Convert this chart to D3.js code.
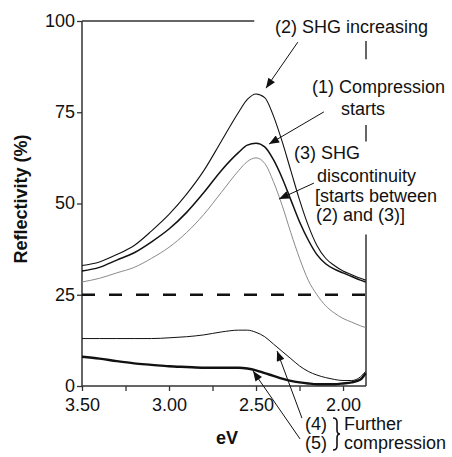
<!DOCTYPE html>
<html lang="en">
<head>
<meta charset="UTF-8">
<title>Reflectivity spectra</title>
<script src="https://d3js.org/d3.v7.min.js"></script>
<style>
  body { margin: 0; background: #fff; }
  svg { display: block; font-family: "Liberation Sans", Arial, sans-serif; }
  text { font-size: 18px; fill: #111; }
  .bold { font-weight: bold; }
</style>
</head>
<body>
<svg width="452" height="457"></svg>
<script>
// photon energy (eV), read along the x axis
const energy = [3.5, 3.4, 3.3, 3.2, 3.1, 3.0, 2.9, 2.8, 2.7, 2.6, 2.55, 2.5, 2.45,
                2.4, 2.35, 2.3, 2.25, 2.2, 2.15, 2.1, 2.05, 2.0, 1.95, 1.9, 1.87];

// reflectivity (%) for each spectrum
const shgIncreasing   = [33, 34, 36, 38.5, 42.5, 47, 52.5, 59, 67, 75, 78.5, 80, 79,
                         74, 67, 59, 51, 44, 38.5, 35, 33, 31.5, 30.5, 29.5, 29];
const compressionStart = [31.5, 32.5, 34.5, 36.5, 39.5, 43, 47.5, 53, 59, 64, 66, 66.5, 65.5,
                         62, 57, 51, 45, 40, 36, 33.5, 32, 31, 30, 29, 28.5];
const shgDiscontinuity = [28.5, 29.5, 31, 32.5, 35, 38, 42, 47, 53, 59, 61.5, 62.5, 61,
                         56, 49.5, 42, 35, 29, 25, 22, 20, 18.5, 17.5, 16.5, 16];
const furtherComp4    = [13, 13, 13, 13, 13, 13.2, 13.5, 14, 14.8, 15.3, 15.3, 14.7, 13.5,
                         11.5, 9.5, 7.5, 5.5, 4, 3, 2.3, 1.8, 1.5, 1.5, 2.5, 4];
const furtherComp5    = [8, 7.5, 6.8, 6.2, 5.8, 5.4, 5.2, 5, 5, 5, 4.8, 4.3, 3.5,
                         2.8, 2, 1.4, 1, 0.7, 0.5, 0.5, 0.5, 0.7, 1, 1.8, 3.5];

const xTicks = [3.5, 3.25, 3.0, 2.75, 2.5, 2.25, 2.0];
const xTickLabels = ["3.50", "", "3.00", "", "2.50", "", "2.00"];
const yTicks = [0, 25, 50, 75, 100];
const threshold = 25;

// arrows: from label to curve, in (eV, %)
const arrows = [
  { from: [2.26, 94.2], to: [2.443, 81.6] },
  { from: [2.11, 75.1], to: [2.425, 66.3] },
  { from: [2.167, 55.6], to: [2.368, 51.2] },
  { from: [2.236, -8.8], to: [2.379, 9.6] },
  { from: [2.247, -14.5], to: [2.517, 4.1] }
];

const labels = [
  ["(2) SHG increasing", 275, 33],
  ["(1) Compression", 312, 93],
  ["starts", 341, 115],
  ["(3) SHG", 294, 159],
  ["discontinuity", 317, 182],
  ["[starts between", 315, 202],
  ["(2) and (3)]", 316, 221],
  ["(4)", 305, 430],
  ["(5)", 305, 449],
  ["Further", 344, 430],
  ["compression", 344, 449]
];

const svg = d3.select("svg");
const margin = { left: 82, top: 21, right: 86, bottom: 71 };
const width = 452, height = 457;

const x = d3.scaleLinear().domain([3.5, 1.868]).range([margin.left, width - margin.right]);
const y = d3.scaleLinear().domain([0, 100]).range([height - margin.bottom, margin.top]);

svg.append("rect").attr("width", width).attr("height", height).attr("fill", "#fff");

svg.append("defs").append("marker")
    .attr("id", "head")
    .attr("markerUnits", "userSpaceOnUse")
    .attr("viewBox", "0 0 10 8")
    .attr("refX", 10).attr("refY", 4)
    .attr("markerWidth", 11).attr("markerHeight", 8)
    .attr("orient", "auto")
  .append("path").attr("d", "M0,0 L10,4 L0,8 Z").attr("fill", "#111");

// axes
const xAxis = svg.append("g")
    .attr("transform", `translate(0,${y(0)})`)
    .call(d3.axisBottom(x).tickValues(xTicks).tickSize(5).tickPadding(6)
      .tickFormat((d, i) => xTickLabels[i]));
const yAxis = svg.append("g")
    .attr("transform", `translate(${x(3.5)},0)`)
    .call(d3.axisLeft(y).tickValues(yTicks).tickSize(5).tickPadding(2));
[xAxis, yAxis].forEach(a => {
  a.select(".domain").remove();
  a.selectAll("line").attr("stroke", "#333").attr("stroke-width", 1.3);
  a.selectAll("text").style("font-size", "18px").attr("fill", "#111")
    .style("font-family", "Liberation Sans, Arial, sans-serif");
});
xAxis.selectAll("text").attr("dy", "0.8em");
yAxis.selectAll("text").attr("dy", "0.3em");

// frame pieces
const frame = svg.append("g").attr("stroke", "#333").attr("stroke-width", 1.5).attr("fill", "none");
frame.append("line").attr("x1", x(3.5)).attr("x2", x(3.5)).attr("y1", y(100)).attr("y2", y(0));
frame.append("line").attr("x1", x(3.5)).attr("x2", x(1.868)).attr("y1", y(0)).attr("y2", y(0));
frame.append("line").attr("x1", x(3.5)).attr("x2", x(2.51)).attr("y1", y(100)).attr("y2", y(100));
[[0, 41.5], [67, 71.5], [89.5, 94.5]].forEach(([a, b]) => {
  frame.append("line").attr("x1", x(1.868)).attr("x2", x(1.868)).attr("y1", y(a)).attr("y2", y(b));
});

// dashed 25% line
svg.append("line")
    .attr("x1", x(3.5)).attr("x2", x(1.868))
    .attr("y1", y(threshold)).attr("y2", y(threshold))
    .attr("stroke", "#111").attr("stroke-width", 2.6)
    .attr("stroke-dasharray", "13,14");

// spectra
const line = d3.line().x((d, i) => x(energy[i])).y(d => y(d)).curve(d3.curveMonotoneX);
const series = [
  { values: shgDiscontinuity, color: "#8a8a8a", w: 1 },
  { values: shgIncreasing, color: "#111", w: 1.1 },
  { values: compressionStart, color: "#111", w: 1.5 },
  { values: furtherComp4, color: "#111", w: 1 },
  { values: furtherComp5, color: "#111", w: 2.4 }
];
svg.append("g").selectAll("path").data(series).join("path")
    .attr("d", d => line(d.values))
    .attr("fill", "none")
    .attr("stroke", d => d.color)
    .attr("stroke-width", d => d.w);

// annotation arrows
svg.append("g").selectAll("line").data(arrows).join("line")
    .attr("x1", d => x(d.from[0])).attr("y1", d => y(d.from[1]))
    .attr("x2", d => x(d.to[0])).attr("y2", d => y(d.to[1]))
    .attr("stroke", "#111").attr("stroke-width", 1)
    .attr("marker-end", "url(#head)");

// annotation text
svg.append("g").selectAll("text").data(labels).join("text")
    .attr("x", d => d[1]).attr("y", d => d[2])
    .text(d => d[0]);

// brace joining (4) and (5)
svg.append("path")
    .attr("d", "M333,418 Q337,418 337,422 L337,430 Q337,434 340,434 Q337,434 337,438 L337,446 Q337,450 333,450")
    .attr("fill", "none").attr("stroke", "#111").attr("stroke-width", 1.6);

// axis titles
svg.append("text").attr("class", "bold")
    .attr("x", 227).attr("y", 444).attr("text-anchor", "middle")
    .text("eV");
svg.append("text").attr("class", "bold")
    .attr("transform", "translate(27,199) rotate(-90)")
    .attr("text-anchor", "middle")
    .text("Reflectivity (%)");
</script>
</body>
</html>
